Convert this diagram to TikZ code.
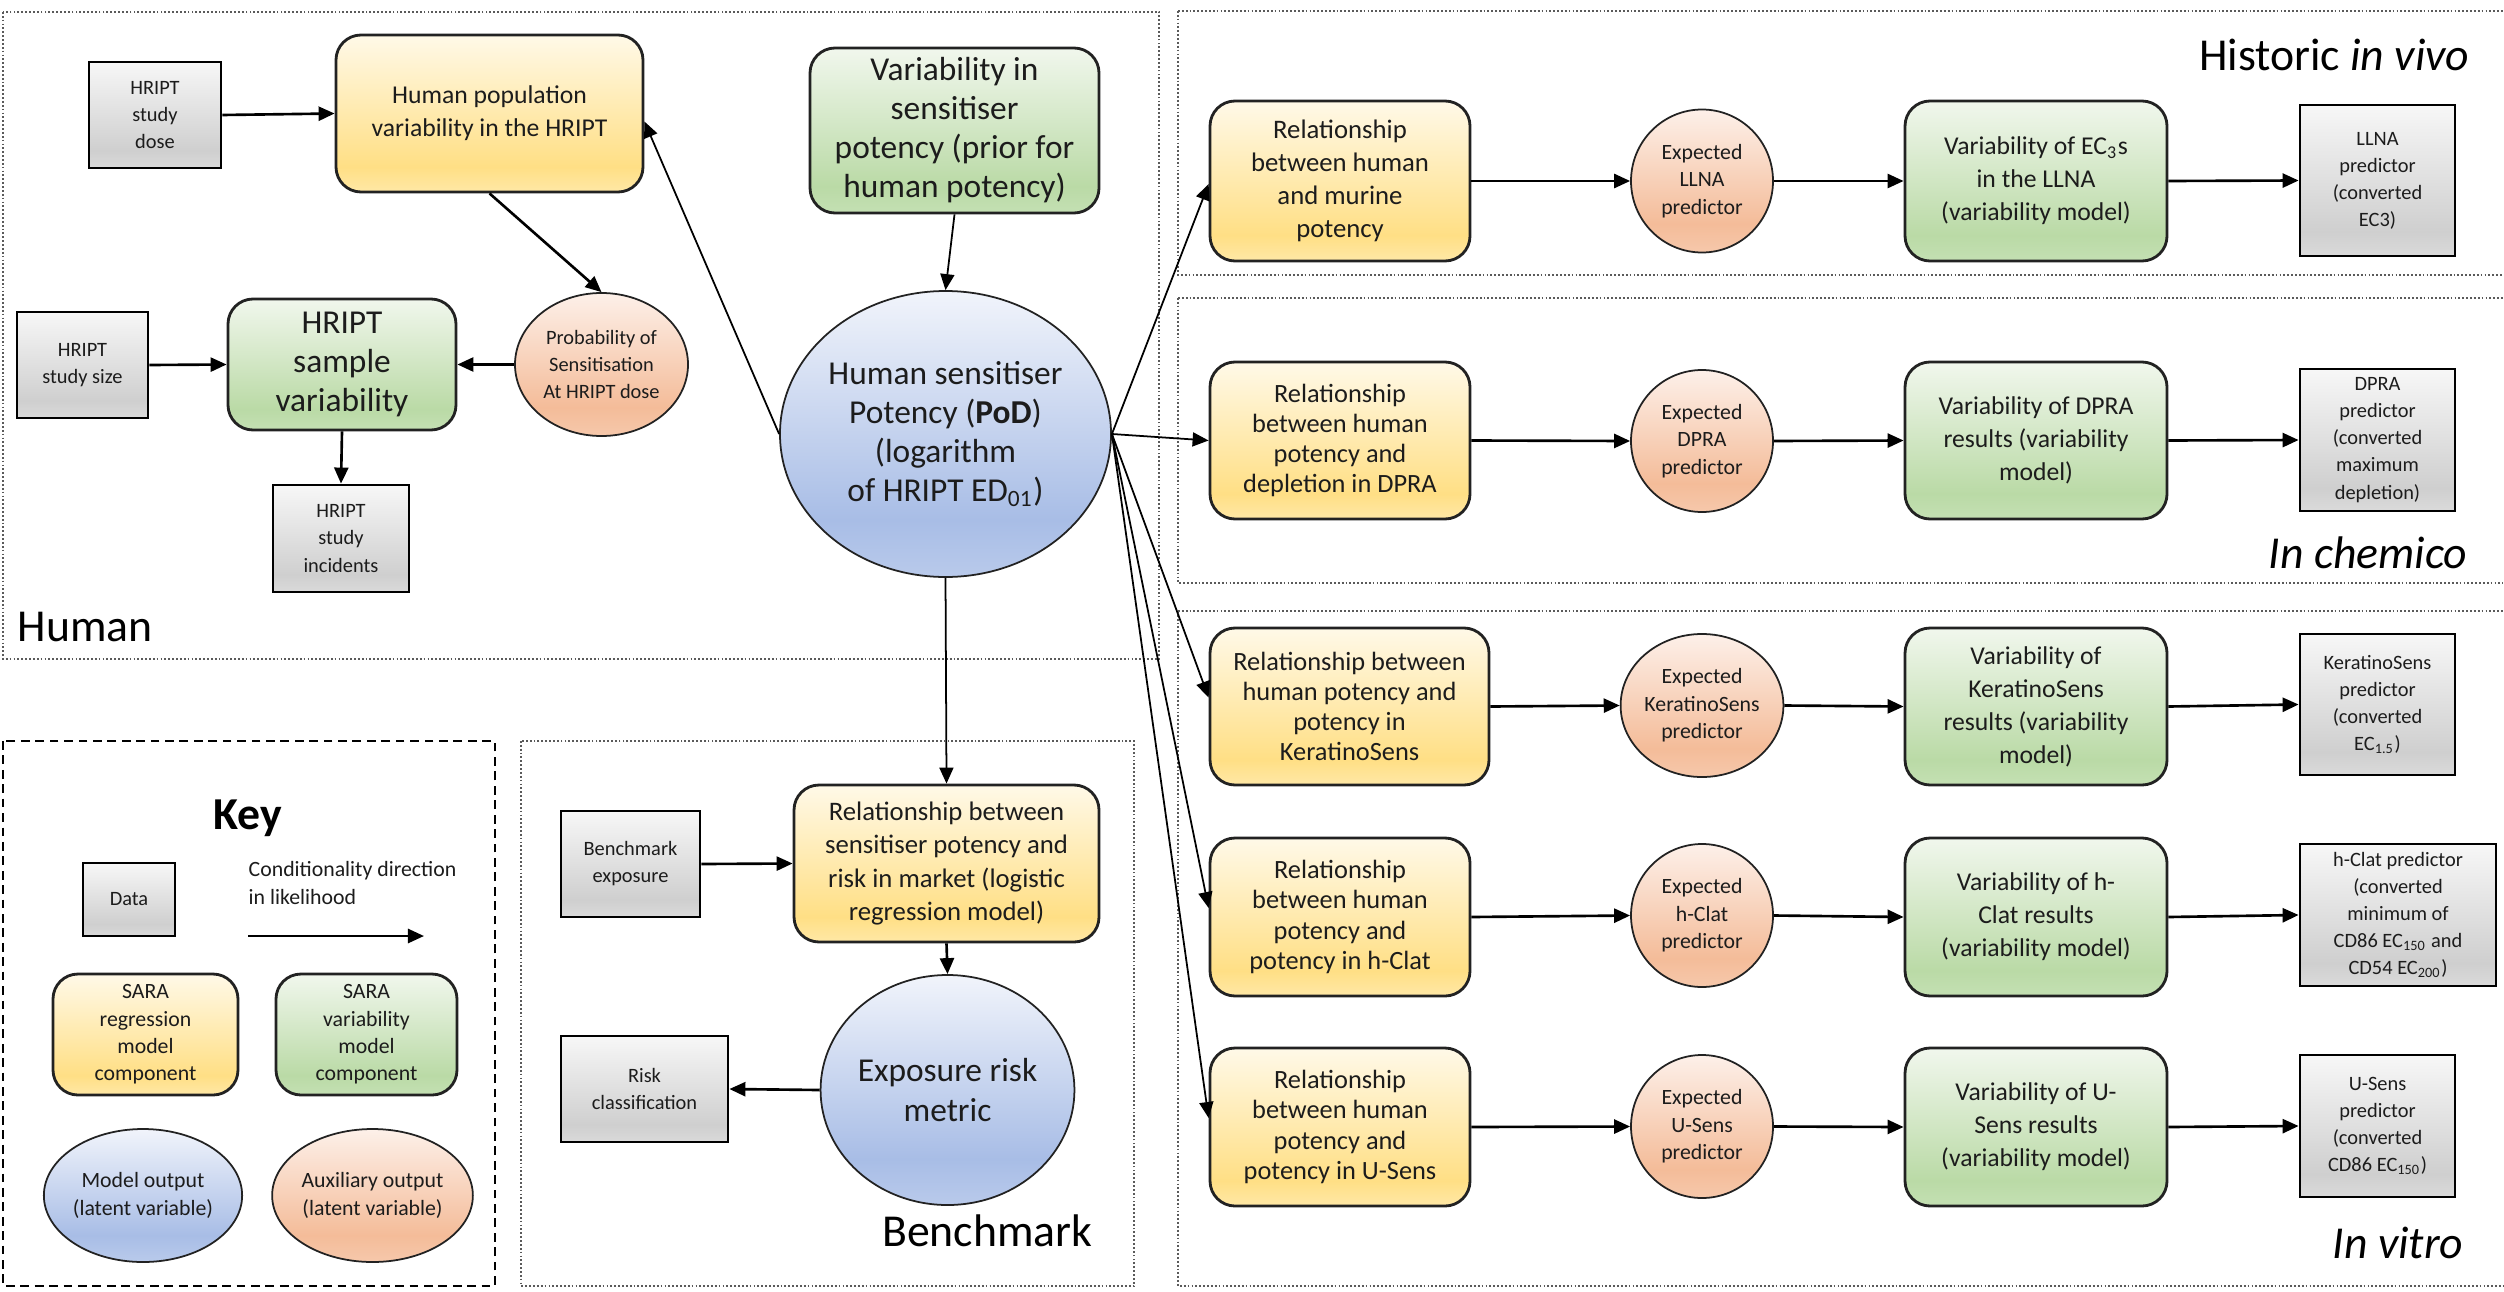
\documentclass[tikz,border=0pt]{standalone}
\usepackage{fontspec}
\setmainfont{Carlito}
\usetikzlibrary{arrows.meta,shapes.geometric,calc}

% text sizes
\newcommand{\fsmall}{\fontsize{5.8}{7.7}\selectfont}
\newcommand{\fsmallb}{\fontsize{6.2}{7.8}\selectfont}
\newcommand{\fmed}{\fontsize{7.3}{9.4}\selectfont}
\newcommand{\fmedb}{\fontsize{7.5}{8.6}\selectfont}
\newcommand{\fmedc}{\fontsize{7.6}{9.4}\selectfont}
\newcommand{\flarge}{\fontsize{9.5}{11.1}\selectfont}
\newcommand{\ftitle}{\fontsize{13}{15}\selectfont}

% colours
\definecolor{txt}{HTML}{1C1C1C}
\definecolor{bord}{HTML}{222222}
\definecolor{panelc}{HTML}{5A5A5A}
\definecolor{yTop}{HTML}{FFF9E8}
\definecolor{yMid}{HTML}{FFDF85}
\definecolor{yBot}{HTML}{FFE8A6}
\definecolor{gTop}{HTML}{F1F7ED}
\definecolor{gMid}{HTML}{BADAA6}
\definecolor{gBot}{HTML}{C4E0B3}
\definecolor{bTop}{HTML}{F1F4FB}
\definecolor{bMid}{HTML}{A8BDE6}
\definecolor{bBot}{HTML}{B9CAEB}
\definecolor{oTop}{HTML}{FDF0E9}
\definecolor{oMid}{HTML}{F4BC99}
\definecolor{oBot}{HTML}{F6C8AB}
\definecolor{kTop}{HTML}{F7F7F7}
\definecolor{kMid}{HTML}{CFCFCF}
\definecolor{kBot}{HTML}{DADADA}

% vertical fills, light at the top and saturated towards the bottom
\pgfdeclareverticalshading{yelshade}{100bp}{color(0bp)=(yBot); color(25bp)=(yBot); color(33bp)=(yMid); color(75bp)=(yTop); color(100bp)=(yTop)}
\pgfdeclareverticalshading{grnshade}{100bp}{color(0bp)=(gBot); color(25bp)=(gBot); color(33bp)=(gMid); color(75bp)=(gTop); color(100bp)=(gTop)}
\pgfdeclareverticalshading{blushade}{100bp}{color(0bp)=(bBot); color(25bp)=(bBot); color(35bp)=(bMid); color(75bp)=(bTop); color(100bp)=(bTop)}
\pgfdeclareverticalshading{orgshade}{100bp}{color(0bp)=(oBot); color(25bp)=(oBot); color(35bp)=(oMid); color(75bp)=(oTop); color(100bp)=(oTop)}
\pgfdeclareverticalshading{gryshade}{100bp}{color(0bp)=(kBot); color(25bp)=(kBot); color(33bp)=(kMid); color(75bp)=(kTop); color(100bp)=(kTop)}

\tikzset{
  sz/.style 2 args={minimum width=#1*0.01cm, minimum height=#2*0.01cm},
  box/.style={rectangle, line width=0.8pt, inner sep=1pt, align=center, text=txt},
  datab/.style={box, draw=black, shade, shading=gryshade, font=\fsmall},
  regb/.style={box, draw=bord, rounded corners=0.25cm, shade, shading=yelshade},
  varb/.style={box, draw=bord, rounded corners=0.25cm, shade, shading=grnshade},
  outl/.style={ellipse, draw=bord, line width=0.5pt, inner sep=0pt, align=center,
               text=txt, shade, shading=blushade},
  auxl/.style={ellipse, draw=bord, line width=0.5pt, inner sep=0pt, align=center,
               text=txt, shade, shading=orgshade, font=\fsmallb},
  conn/.style={-{Triangle[length=0.16cm,width=0.14cm]}, line width=0.75pt, black},
  fine/.style={conn, line width=0.5pt},
  panel/.style={draw=panelc, line width=0.35pt, dash pattern=on 0.5pt off 0.6pt},
  keypanel/.style={draw=black, line width=0.55pt, dash pattern=on 2.5pt off 1.6pt},
  lbl/.style={font=\ftitle, text=black, inner sep=0pt},
}

\begin{document}
\begin{tikzpicture}[x=0.01cm, y=-0.01cm]
\useasboundingbox[fill=white] (0,0) rectangle (2504,1291);

% ---------- panels ----------
\draw[panel] (3,12) rectangle (1159,659);
\draw[panel] (1178,11) -- (2503,11) (1178,11) -- (1178,275) -- (2503,275);
\draw[panel] (1178,298) -- (2503,298) (1178,298) -- (1178,583) -- (2503,583);
\draw[panel] (1178,611) -- (2503,611) (1178,611) -- (1178,1286) -- (2503,1286);
\draw[keypanel] (3,741) rectangle (495,1286);
\draw[panel] (521,741) rectangle (1134,1286);

\node[lbl, anchor=base west] (lhuman) at (17,641) {Human};
\node[lbl, anchor=base east] (lvivo) at (2470,71) {Historic \textit{in vivo}};
\node[lbl, anchor=base east] (lchem) at (2468,568) {\textit{In chemico}};
\node[lbl, anchor=base east] (lvitro) at (2464,1258) {\textit{In vitro}};
\node[lbl, anchor=base east] (lbench) at (1093,1246) {Benchmark};

% ---------- human panel ----------
\node[datab, sz={132}{106}] (dose) at (155,115) {HRIPT\\study\\dose};
\node[regb, sz={307}{157}, font=\fmed] (pop) at (489.5,113.5) {Human population\\variability in the HRIPT};
\node[varb, sz={289}{165}, font=\flarge] (prior) at (954.5,130.5) {Variability in\\sensitiser\\potency (prior for\\human potency)};
\node[datab, sz={131}{106}] (size) at (82.5,365) {HRIPT\\study size};
\node[varb, sz={228}{131}, font=\flarge] (samp) at (342,364.5) {HRIPT\\sample\\variability};
\node[auxl, sz={173}{143}, font=\fsmall] (prob) at (601.5,364.5) {Probability of\\Sensitisation\\At HRIPT dose};
\node[datab, sz={136}{107}] (inc) at (341,538.5) {HRIPT\\study\\incidents};
\node[outl, sz={303}{286}, font=\flarge] (hs) at (945.5,434) {Human sensitiser\\Potency (\textbf{PoD})\\(logarithm\\of HRIPT ED\textsubscript{01})};
\coordinate (src) at (hs.east);

\draw[conn] (dose.east) -- (pop.west);
\draw[conn] (pop.south) -- (prob.north);
\draw[conn] (prob.west) -- (samp.east);
\draw[conn] (size.east) -- (samp.west);
\draw[conn] (samp.south) -- (inc.north);
\draw[fine] (prior.south) -- (hs.north);
\draw[fine] (hs.west) -- ($(pop.east)+(0,8)$);

% ---------- assay rows ----------
% row 1: LLNA
\node[regb, sz={260}{160}, font=\fmedc] (r1y) at (1340,181) {Relationship\\between human\\and murine\\potency};
\node[auxl, sz={142}{143}] (r1e) at (1702,181) {Expected\\LLNA\\predictor};
\node[varb, sz={262}{160}, font=\fmed] (r1g) at (2036,181) {Variability of EC\textsubscript{3}s\\in the LLNA\\(variability model)};
\node[datab, sz={155}{151}] (r1d) at (2377.5,180.5) {LLNA\\predictor\\(converted\\EC3)};

% row 2: DPRA
\node[regb, sz={260}{157}, font=\fmedb] (r2y) at (1340,440.5) {Relationship\\between human\\potency and\\depletion in DPRA};
\node[auxl, sz={142}{142}] (r2e) at (1702,441) {Expected\\DPRA\\predictor};
\node[varb, sz={262}{157}, font=\fmed] (r2g) at (2036,440.5) {Variability of DPRA\\results (variability\\model)};
\node[datab, sz={155}{142}] (r2d) at (2377.5,440) {DPRA\\predictor\\(converted\\maximum\\depletion)};

% row 3: KeratinoSens
\node[regb, sz={279}{157}, font=\fmedb] (r3y) at (1349.5,706.5) {Relationship between\\human potency and\\potency in\\KeratinoSens};
\node[auxl, sz={142}{143}] (r3e) at (1702,705.5) {Expected\\KeratinoSens\\predictor};
\node[varb, sz={262}{157}, font=\fmed] (r3g) at (2036,706.5) {Variability of\\KeratinoSens\\results (variability\\model)};
\node[datab, sz={155}{141}] (r3d) at (2377.5,704.5) {KeratinoSens\\predictor\\(converted\\EC\textsubscript{1.5})};

% row 4: h-Clat
\node[regb, sz={260}{158}, font=\fmedb] (r4y) at (1340,917) {Relationship\\between human\\potency and\\potency in h-Clat};
\node[auxl, sz={142}{143}] (r4e) at (1702,915.5) {Expected\\h-Clat\\predictor};
\node[varb, sz={262}{158}, font=\fmed] (r4g) at (2036,917) {Variability of h-\\Clat results\\(variability model)};
\node[datab, sz={196}{142}] (r4d) at (2398,915) {h-Clat predictor\\(converted\\minimum of\\CD86 EC\textsubscript{150} and\\CD54 EC\textsubscript{200})};

% row 5: U-Sens
\node[regb, sz={260}{158}, font=\fmedb] (r5y) at (1340,1127) {Relationship\\between human\\potency and\\potency in U-Sens};
\node[auxl, sz={142}{143}] (r5e) at (1702,1126.5) {Expected\\U-Sens\\predictor};
\node[varb, sz={262}{158}, font=\fmed] (r5g) at (2036,1127) {Variability of U-\\Sens results\\(variability model)};
\node[datab, sz={155}{142}] (r5d) at (2377.5,1126) {U-Sens\\predictor\\(converted\\CD86 EC\textsubscript{150})};

\foreach \r in {1,...,5}{
  \draw[conn] (r\r y.east) -- (r\r e.west);
  \draw[conn] (r\r e.east) -- (r\r g.west);
  \draw[conn] (r\r g.east) -- (r\r d.west);
}

\draw[fine] (src) -- ($(r1y.west)+(0,3)$);
\draw[fine] (src) -- (r2y.west);
\draw[fine] (src) -- ($(r3y.west)+(0,-9)$);
\draw[fine] (src) -- ($(r4y.west)+(0,-9)$);
\draw[fine] (src) -- ($(r5y.west)+(0,-9)$);

% ---------- benchmark panel ----------
\node[datab, sz={139}{106}] (bexp) at (630.5,864) {Benchmark\\exposure};
\node[regb, sz={305}{157}, font=\fmedc] (rel) at (946.5,863.5) {Relationship between\\sensitiser potency and\\risk in market (logistic\\regression model)};
\node[outl, sz={239}{230}, font=\flarge] (erm) at (947.5,1090) {Exposure risk\\metric};
\node[datab, sz={167}{106}] (risk) at (644.5,1089) {Risk\\classification};

\draw[fine] (hs.south) -- (rel.north);
\draw[conn] (bexp.east) -- (rel.west);
\draw[conn] (rel.south) -- (erm.north);
\draw[conn] (erm.west) -- (risk.east);

% ---------- key ----------
\node[font=\ftitle\bfseries, text=black, anchor=base] (keyt) at (248,829) {Key};
\node[datab, sz={92}{73}] (kdata) at (129,899.5) {Data};
\node[font=\fsmallb, text=txt, align=left, anchor=north west, inner sep=0pt] (kcond) at (248,861) {Conditionality direction\\in likelihood};
\coordinate (ka) at (248,936);
\coordinate (kb) at (424,936);
\draw[conn] (ka) -- (kb);
\node[regb, sz={185}{121}, font=\fsmallb] (kreg) at (145.5,1034.5) {SARA\\regression\\model\\component};
\node[varb, sz={181}{121}, font=\fsmallb] (kvar) at (366.5,1034.5) {SARA\\variability\\model\\component};
\node[outl, sz={176}{133}, font=\fsmallb] (kmod) at (143,1195.5) {Model output\\(latent variable)};
\node[auxl, sz={165}{133}] (kaux) at (372.5,1195.5) {Auxiliary output\\(latent variable)};

\end{tikzpicture}
\end{document}
